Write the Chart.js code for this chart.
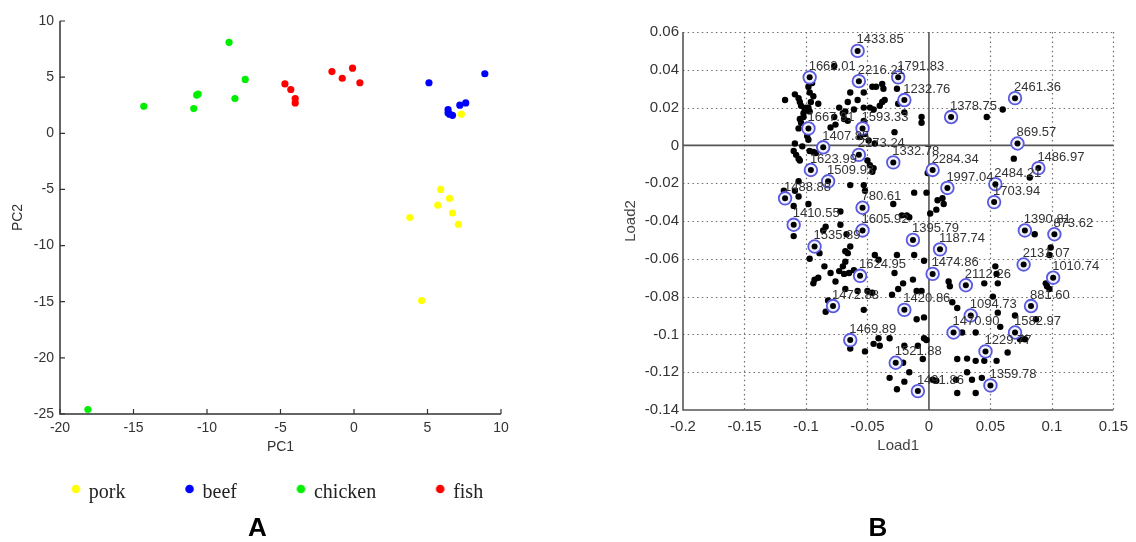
<!DOCTYPE html>
<html><head><meta charset="utf-8">
<script src="https://cdn.jsdelivr.net/npm/chart.js@4"></script>
<style>
html,body{margin:0;padding:0;background:#fff;width:1136px;height:542px;overflow:hidden}
#ca{position:absolute;left:0;top:0}
#cb{position:absolute;left:620px;top:0}
</style></head><body>
<canvas id="ca" width="515" height="542"></canvas>
<canvas id="cb" width="516" height="542"></canvas>
<script>
// ---------- Panel A data (PCA scores) ----------
const groupNames = ['pork', 'beef', 'chicken', 'fish'];
const porkX = [7.3, 5.9, 6.5, 5.7, 6.7, 3.8, 7.1, 4.6];
const porkY = [1.7, -5.0, -5.8, -6.4, -7.1, -7.5, -8.1, -14.9];
const beefX = [5.1, 8.9, 6.4, 6.4, 6.5, 6.7, 7.2, 7.6];
const beefY = [4.5, 5.3, 2.1, 1.8, 1.7, 1.6, 2.5, 2.7];
const chickenX = [-14.3, -10.9, -10.7, -10.6, -8.5, -8.1, -7.4, -18.1];
const chickenY = [2.4, 2.2, 3.4, 3.5, 8.1, 3.1, 4.8, -24.6];
const fishX = [-4.7, -4.3, -4.0, -4.0, -1.5, -0.8, -0.1, 0.4];
const fishY = [4.4, 3.9, 3.1, 2.7, 5.5, 4.9, 5.8, 4.5];
const pcXTicks = [-20, -15, -10, -5, 0, 5, 10];
const pcYTicks = [-25, -20, -15, -10, -5, 0, 5, 10];

// ---------- Panel B data (loadings) ----------
const peakLabels = ['1433.85','1662.01','2216.21','1791.83','1232.76','2461.36','1378.75','1667.91','1593.33','869.57',
  '1407.85','2173.24','1332.78','2284.34','1486.97','1623.99','1509.93','1997.04','2484.21','1703.94',
  '1488.88','780.61','1410.55','1605.92','1390.81','873.62','1535.89','1395.79','1187.74','2131.07',
  '1010.74','1624.95','1474.86','2112.26','1472.88','881.60','1420.86','1094.73','1470.90','1582.97',
  '1469.89','1229.77','1521.88','1359.78','1491.86'];
const peakX = [-0.058,-0.097,-0.057,-0.025,-0.020,0.070,0.018,-0.098,-0.054,0.072,
  -0.086,-0.057,-0.029,0.003,0.089,-0.096,-0.082,0.015,0.054,0.053,
  -0.117,-0.054,-0.110,-0.054,0.078,0.102,-0.093,-0.013,0.009,0.077,
  0.101,-0.056,0.003,0.030,-0.078,0.083,-0.020,0.034,0.020,0.070,
  -0.064,0.046,-0.027,0.050,-0.009];
const peakY = [0.050,0.036,0.034,0.036,0.024,0.025,0.015,0.009,0.009,0.001,
  -0.001,-0.005,-0.009,-0.013,-0.012,-0.013,-0.019,-0.0225,-0.0205,-0.030,
  -0.028,-0.033,-0.042,-0.045,-0.045,-0.047,-0.0535,-0.050,-0.055,-0.063,
  -0.070,-0.069,-0.068,-0.074,-0.085,-0.085,-0.087,-0.090,-0.099,-0.099,
  -0.103,-0.109,-0.115,-0.127,-0.130];
const loadX = [-0.117,-0.109,-0.106,-0.105,-0.104,-0.101,-0.098,-0.097,-0.102,-0.105,-0.104,-0.096,-0.098,-0.097,-0.095,-0.094,-0.099,-0.098,-0.109,-0.110,-0.108,-0.106,-0.103,-0.097,-0.094,-0.092,-0.077,-0.090,-0.100,-0.102,-0.106,-0.105,
  -0.106,-0.109,-0.106,-0.098,-0.110,-0.118,-0.110,-0.097,-0.089,-0.085,-0.086,-0.084,-0.072,-0.093,-0.094,-0.090,-0.080,-0.076,-0.073,-0.070,-0.068,-0.066,-0.065,-0.069,-0.061,-0.044,-0.041,-0.026,-0.028,-0.021,-0.013,-0.012,
  -0.068,-0.058,-0.050,-0.046,-0.030,-0.025,-0.010,-0.006,-0.082,-0.084,-0.053,-0.010,-0.004,-0.045,-0.040,-0.032,-0.052,-0.041,-0.021,-0.009,-0.016,-0.032,-0.026,-0.020,-0.005,-0.004,-0.064,-0.020,-0.002,0.003,0.006,
  -0.064,-0.072,-0.067,-0.068,
  -0.064,-0.066,-0.061,-0.068,-0.070,-0.069,-0.066,-0.058,-0.053,-0.046,-0.043,-0.038,-0.037,-0.038,-0.036,-0.040,-0.048,-0.045,-0.025,-0.028,-0.006,-0.006,-0.077,-0.076,-0.080,-0.053,-0.052,-0.049,-0.044,-0.050,-0.048,-0.045,-0.046,-0.053,-0.052,-0.064,-0.012,-0.022,-0.018,-0.016,-0.029,-0.026,-0.020,-0.001,-0.002,-0.073,-0.056,-0.053,
  0.007,0.011,0.012,0.006,0.001,
  0.060,0.047,0.069,0.082,0.086,0.099,0.098,-0.004,0.054,0.055,0.056,0.045,0.095,0.096,0.098,0.016,0.017,0.019,0.023,0.052,0.056,0.058,0.027,0.038,0.074,0.078,0.087,0.070,0.064,0.023,0.031,0.038,0.045,0.055,0.031,0.022,0.035,0.043,0.023,0.038];
const loadY = [0.024,0.027,0.025,0.023,0.021,0.019,0.020,0.018,0.017,0.014,0.012,0.023,0.031,0.028,0.033,0.026,0.005,0.003,0.001,-0.003,-0.005,-0.007,-0.0005,-0.003,-0.0035,-0.004,0.042,0.022,0.020,0.015,0.009,-0.008,
  -0.027,-0.024,-0.019,-0.031,-0.032,-0.024,-0.048,-0.060,-0.057,-0.064,-0.045,-0.043,-0.042,-0.071,-0.073,-0.070,-0.0675,-0.072,-0.0665,-0.064,-0.0615,-0.057,-0.0675,-0.068,-0.066,-0.058,-0.0605,-0.058,-0.0675,-0.073,-0.071,-0.058,
  -0.076,-0.077,-0.077,-0.078,-0.079,-0.076,-0.077,-0.077,-0.082,-0.088,-0.087,-0.092,-0.091,-0.105,-0.106,-0.102,-0.109,-0.102,-0.115,-0.106,-0.120,-0.123,-0.129,-0.125,-0.113,-0.102,-0.1075,-0.106,-0.103,-0.124,-0.1245,
  -0.0535,-0.035,-0.047,-0.056,
  0.028,0.023,0.019,0.018,0.017,0.014,0.013,0.024,0.028,0.031,0.031,0.0325,0.030,0.023,0.024,0.021,0.020,0.019,0.022,0.007,0.015,0.012,0.015,0.011,0.0095,0.013,0.006,0.0026,0.001,-0.008,-0.0105,-0.012,-0.014,-0.021,-0.024,-0.021,-0.025,-0.037,-0.037,-0.038,-0.031,0.030,0.0175,-0.0146,-0.025,0.020,0.0045,0.020,
  -0.029,-0.028,-0.031,-0.034,-0.036,
  0.019,0.015,-0.007,-0.017,-0.047,-0.054,-0.058,-0.061,-0.064,-0.068,-0.073,-0.073,-0.073,-0.0745,-0.076,-0.072,-0.0745,-0.083,-0.086,-0.080,-0.0885,-0.096,-0.099,-0.099,-0.1026,-0.1026,-0.092,-0.090,-0.1096,-0.113,-0.1128,-0.114,-0.114,-0.114,-0.120,-0.124,-0.124,-0.123,-0.131,-0.131];
const loadXTicks = [-0.2, -0.15, -0.1, -0.05, 0, 0.05, 0.1, 0.15];
const loadXTickLabels = ['-0.2', '-0.15', '-0.1', '-0.05', '0', '0.05', '0.1', '0.15'];
const loadYTicks = [-0.14, -0.12, -0.1, -0.08, -0.06, -0.04, -0.02, 0, 0.02, 0.04, 0.06];
const loadYTickLabels = ['-0.14', '-0.12', '-0.1', '-0.08', '-0.06', '-0.04', '-0.02', '0', '0.02', '0.04', '0.06'];

// ---------- helpers ----------
const SANS = '"Liberation Sans", Arial, Helvetica, sans-serif';
const SERIF = '"Liberation Serif", "Times New Roman", Times, serif';
Chart.defaults.font.family = SANS;
Chart.defaults.color = '#333';
const pts = (xs, ys) => xs.map((x, i) => ({x: x, y: ys[i]}));
const setTicks = arr => (s => { s.ticks = arr.map(v => ({value: v})); });

// legend marker images: a small dot sitting just left of the label text
const LEGEND_BOX = 47;
function legendDot(color) {
  const cv = document.createElement('canvas');
  cv.width = 52; cv.height = 20;
  const g = cv.getContext('2d');
  g.fillStyle = color;
  g.beginPath(); g.arc(46.5, 6, 4.3, 0, Math.PI * 2); g.fill();
  return cv;
}

// Panel A: axis lines with inward ticks
const axesA = {
  id: 'axesA',
  beforeDatasetsDraw(chart) {
    const {ctx, chartArea: a, scales: {x, y}} = chart;
    ctx.save();
    ctx.strokeStyle = '#333';
    ctx.lineWidth = 1.5;
    ctx.beginPath();
    ctx.moveTo(a.left, a.top); ctx.lineTo(a.left, a.bottom); ctx.lineTo(a.right, a.bottom);
    ctx.stroke();
    ctx.lineWidth = 1.2;
    ctx.beginPath();
    pcXTicks.forEach(v => { const p = x.getPixelForValue(v); ctx.moveTo(p, a.bottom); ctx.lineTo(p, a.bottom - 5); });
    pcYTicks.forEach(v => { const p = y.getPixelForValue(v); ctx.moveTo(a.left, p); ctx.lineTo(a.left + 5, p); });
    ctx.stroke();
    ctx.restore();
  }
};

// Panel B: dotted grid, zero lines, axes
const gridB = {
  id: 'gridB',
  beforeDatasetsDraw(chart) {
    const {ctx, chartArea: a, scales: {x, y}} = chart;
    ctx.save();
    ctx.strokeStyle = '#6f6f6f';
    ctx.lineWidth = 1.2;
    ctx.setLineDash([1.5, 3.2]);
    ctx.beginPath();
    loadXTicks.forEach((v, i) => {
      if (i === 0 || v === 0) return;
      const p = Math.round(x.getPixelForValue(v)) + 0.5;
      ctx.moveTo(p, a.top); ctx.lineTo(p, a.bottom);
    });
    loadYTicks.forEach((v, i) => {
      if (i === 0 || v === 0) return;
      const p = Math.round(y.getPixelForValue(v)) + 0.5;
      ctx.moveTo(a.left, p); ctx.lineTo(a.right, p);
    });
    ctx.stroke();
    ctx.setLineDash([]);
    ctx.strokeStyle = '#555';
    ctx.lineWidth = 1.6;
    ctx.beginPath();
    const x0 = x.getPixelForValue(0), y0 = y.getPixelForValue(0);
    ctx.moveTo(x0, a.top); ctx.lineTo(x0, a.bottom);
    ctx.moveTo(a.left, y0); ctx.lineTo(a.right, y0);
    ctx.moveTo(a.left, a.top); ctx.lineTo(a.left, a.bottom); ctx.lineTo(a.right, a.bottom);
    ctx.stroke();
    ctx.restore();
  }
};

const peakLabelPlugin = {
  id: 'peakLabels',
  afterDatasetsDraw(chart) {
    const ctx = chart.ctx;
    const meta = chart.getDatasetMeta(1);
    ctx.save();
    ctx.font = '13px ' + SANS;
    ctx.fillStyle = '#333';
    ctx.textAlign = 'left';
    ctx.textBaseline = 'middle';
    meta.data.forEach((el, i) => ctx.fillText(peakLabels[i], el.x - 1, el.y - 11));
    ctx.restore();
  }
};

// ---------- Panel A chart ----------
const groupColors = ['#ffff00', '#0000ff', '#00ee00', '#ff0000'];
const legendDots = groupColors.map(legendDot);
const groupData = [pts(porkX, porkY), pts(beefX, beefY), pts(chickenX, chickenY), pts(fishX, fishY)];
new Chart(document.getElementById('ca'), {
  type: 'scatter',
  data: {
    datasets: groupData.map((d, i) => ({
      label: groupNames[i], data: d, xAxisID: 'x', yAxisID: 'y',
      backgroundColor: groupColors[i], borderColor: groupColors[i], borderWidth: 0,
      pointRadius: 3.6, pointStyle: 'circle'
    }))
  },
  options: {
    responsive: false, animation: false, devicePixelRatio: 1,
    events: [],
    layout: {padding: {top: 21, left: 0, right: 0, bottom: 0}},
    plugins: {
      tooltip: {enabled: false},
      legend: {
        position: 'bottom', fullSize: true,
        title: {display: true, text: '', padding: {top: 3, bottom: 0}, font: {size: 1, lineHeight: 1}},
        labels: {
          usePointStyle: true, pointStyleWidth: LEGEND_BOX, boxWidth: LEGEND_BOX, boxHeight: 6, padding: 20,
          color: '#222', font: {family: SERIF, size: 20},
          generateLabels: chart => Chart.defaults.plugins.legend.labels.generateLabels(chart)
            .map((item, i) => Object.assign(item, {pointStyle: legendDots[i]}))
        }
      },
      title: {display: true, text: 'A', position: 'bottom', padding: {top: 3, bottom: 0}, color: '#000',
        font: {size: 26, weight: 'bold', lineHeight: 1}}
    },
    scales: {
      x: {
        type: 'linear', position: 'bottom', min: -20, max: 10,
        afterBuildTicks: setTicks(pcXTicks),
        afterFit: s => { s.height = 45; },
        ticks: {padding: 6, color: '#333', font: {size: 14}},
        grid: {display: false, drawTicks: false},
        border: {display: false},
        title: {display: true, text: 'PC1', color: '#333', font: {size: 14}, padding: {top: 0, bottom: 3.6}}
      },
      y: {
        type: 'linear', position: 'left', min: -25, max: 10,
        afterBuildTicks: setTicks(pcYTicks),
        afterFit: s => { s.width = 60; },
        ticks: {padding: 6, color: '#333', font: {size: 14}},
        grid: {display: false, drawTicks: false},
        border: {display: false},
        title: {display: true, text: 'PC2', color: '#333', font: {size: 14}, padding: {top: 10, bottom: 0}}
      },
      yr: {
        type: 'linear', position: 'right', display: true,
        afterFit: s => { s.width = 14; },
        ticks: {display: false}, grid: {display: false, drawTicks: false}, border: {display: false}
      }
    }
  },
  plugins: [axesA]
});

// ---------- Panel B chart ----------
new Chart(document.getElementById('cb'), {
  type: 'scatter',
  data: {
    datasets: [
      {label: 'peak centres', data: pts(peakX, peakY), order: 0, xAxisID: 'x', yAxisID: 'y', backgroundColor: '#000', borderWidth: 0, pointRadius: 3},
      {label: 'marked peaks', data: pts(peakX, peakY), order: 1, xAxisID: 'x', yAxisID: 'y', backgroundColor: '#f2f2ff', borderColor: '#5a5ae0', borderWidth: 1.8, pointRadius: 6.3},
      {label: 'loadings', data: pts(loadX, loadY), order: 2, xAxisID: 'x', yAxisID: 'y', backgroundColor: '#000', borderWidth: 0, pointRadius: 3.2}
    ]
  },
  options: {
    responsive: false, animation: false, devicePixelRatio: 1,
    events: [],
    layout: {padding: {top: 32, left: 0, right: 0, bottom: 0}},
    plugins: {
      tooltip: {enabled: false},
      legend: {display: false},
      title: {display: true, text: 'B', position: 'bottom', padding: 0, color: '#000',
        font: {size: 26, weight: 'bold', lineHeight: 1}}
    },
    scales: {
      x: {
        type: 'linear', position: 'bottom', min: -0.2, max: 0.15,
        afterBuildTicks: setTicks(loadXTicks),
        afterFit: s => { s.height = 106; },
        ticks: {padding: 8, color: '#333', font: {size: 15}, callback: (v, i) => loadXTickLabels[i]},
        grid: {display: false, drawTicks: false},
        border: {display: false},
        title: {display: true, text: 'Load1', color: '#444', font: {size: 15}, padding: {top: 0, bottom: 61}}
      },
      y: {
        type: 'linear', position: 'left', min: -0.14, max: 0.06,
        afterBuildTicks: setTicks(loadYTicks),
        afterFit: s => { s.width = 63; },
        ticks: {padding: 4, color: '#333', font: {size: 15}, callback: (v, i) => loadYTickLabels[i]},
        grid: {display: false, drawTicks: false},
        border: {display: false},
        title: {display: true, text: 'Load2', color: '#444', font: {size: 15}, padding: {top: 2, bottom: 0}}
      },
      yr: {
        type: 'linear', position: 'right', display: true,
        afterFit: s => { s.width = 16; },
        ticks: {display: false}, grid: {display: false, drawTicks: false}, border: {display: false}
      }
    }
  },
  plugins: [gridB, peakLabelPlugin]
});
</script>
</body></html>
